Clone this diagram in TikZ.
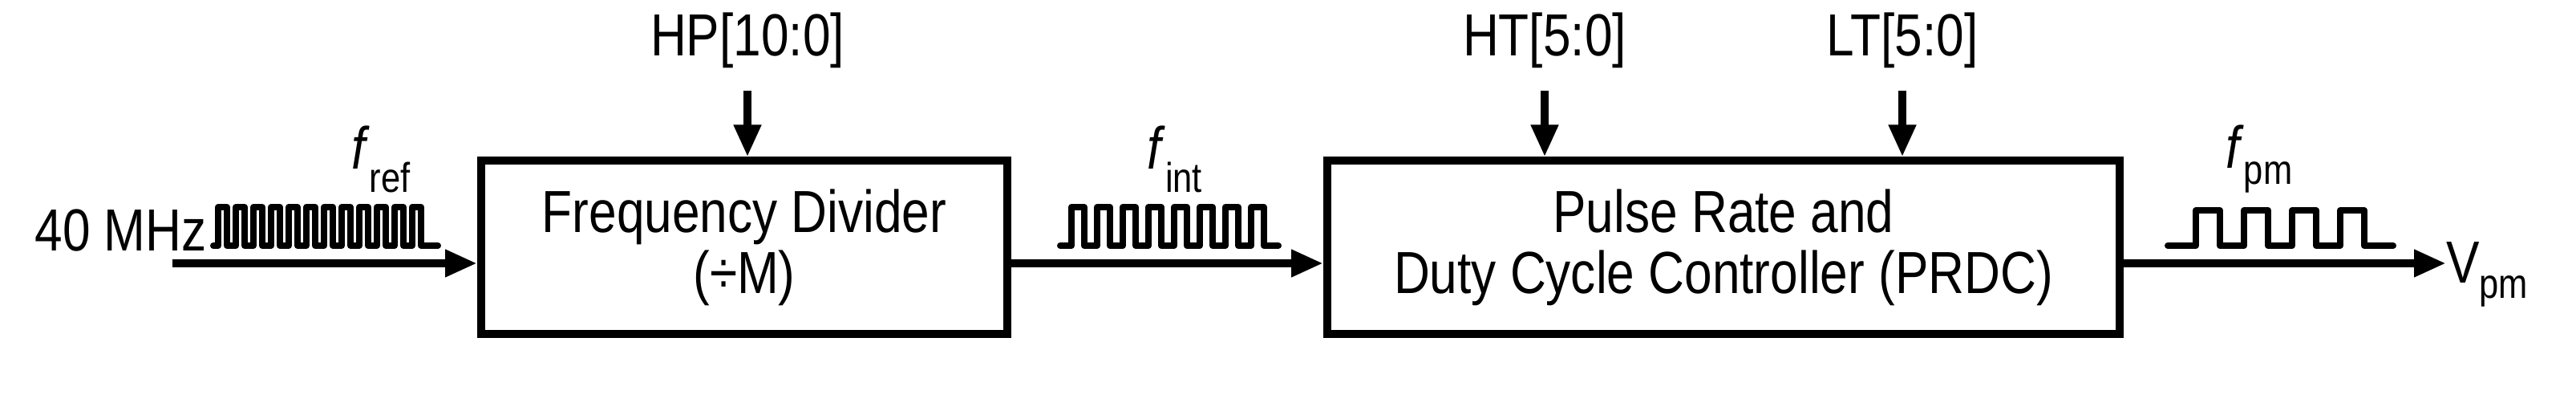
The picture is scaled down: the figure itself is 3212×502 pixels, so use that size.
\documentclass[tikz,border=0pt]{standalone}
\usepackage{fontspec}
\setmainfont{Liberation Sans}[FakeStretch=0.84]
\usetikzlibrary{arrows.meta}
\begin{document}
\begin{tikzpicture}[x=1pt,y=-1pt,
  blk/.style={draw,line width=10pt,minimum width=#1,minimum height=215pt,inner sep=0pt,align=center,font=\fontsize{74}{76}\selectfont},
  lbl/.style={inner sep=0pt,font=\fontsize{74}{76}\selectfont},
  sig/.style={line width=10pt,-{Triangle[length=40pt,width=32pt]}},
  wave/.style={line width=8pt,line join=round,line cap=round}]
\useasboundingbox (0,0) rectangle (3212,502);
\node[blk=656pt] (fd) at (928,308) {Frequency Divider\\(÷M)};
\node[blk=988pt] (pr) at (2149,308) {Pulse Rate and\\Duty Cycle Controller (PRDC)};
\node[lbl] (hp) at (932,50) {HP[10:0]};
\node[lbl] (ht) at (1926,50) {HT[5:0]};
\node[lbl] (lt) at (2372,50) {LT[5:0]};
\coordinate (hpt) at (932,113);
\coordinate (htt) at (1926,113);
\coordinate (ltt) at (2372,113);
\draw[sig] (hpt) -- (hp |- fd.north);
\draw[sig] (htt) -- (ht |- pr.north);
\draw[sig] (ltt) -- (lt |- pr.north);
\coordinate (in) at (215,328);
\draw[sig] (in) -- (fd.west |- in);
\draw[sig] (fd.east |- in) -- (pr.west |- in);
\node[lbl,anchor=west] (vpm) at (3050,342) {V\textsubscript{pm}};
\draw[sig] (pr.east |- in) -- (vpm.west |- in);
\node[lbl,anchor=east] (mhz) at (258,287) {40 MHz};
\node[lbl] (fref) at (475,198) {\textit{f}\textsubscript{ref}};
\node[lbl] (fint) at (1465,198) {\textit{f}\textsubscript{int}};
\node[lbl] (fpm) at (2817,198) {\textit{f}\textsubscript{pm}};
% f_ref waveform
\draw[wave] (266,306) -- (272,306)
  \foreach \i in {0,...,11} { -- ++(0,-48) -- ++(11,0) -- ++(0,48) -- ++(11,0) } -- ++(10,0);
% f_int waveform
\draw[wave] (1322,306) -- (1336,306)
  \foreach \i in {0,...,7} { -- ++(0,-48) -- ++(16,0) -- ++(0,48) -- ++(16,0) } -- ++(2,0);
% f_pm waveform
\draw[wave] (2703,306) -- (2738,306)
  \foreach \i in {0,...,3} { -- ++(0,-44) -- ++(30,0) -- ++(0,44) -- ++(30,0) } -- ++(-2,0) -- ++(8,0);
\end{tikzpicture}
\end{document}
